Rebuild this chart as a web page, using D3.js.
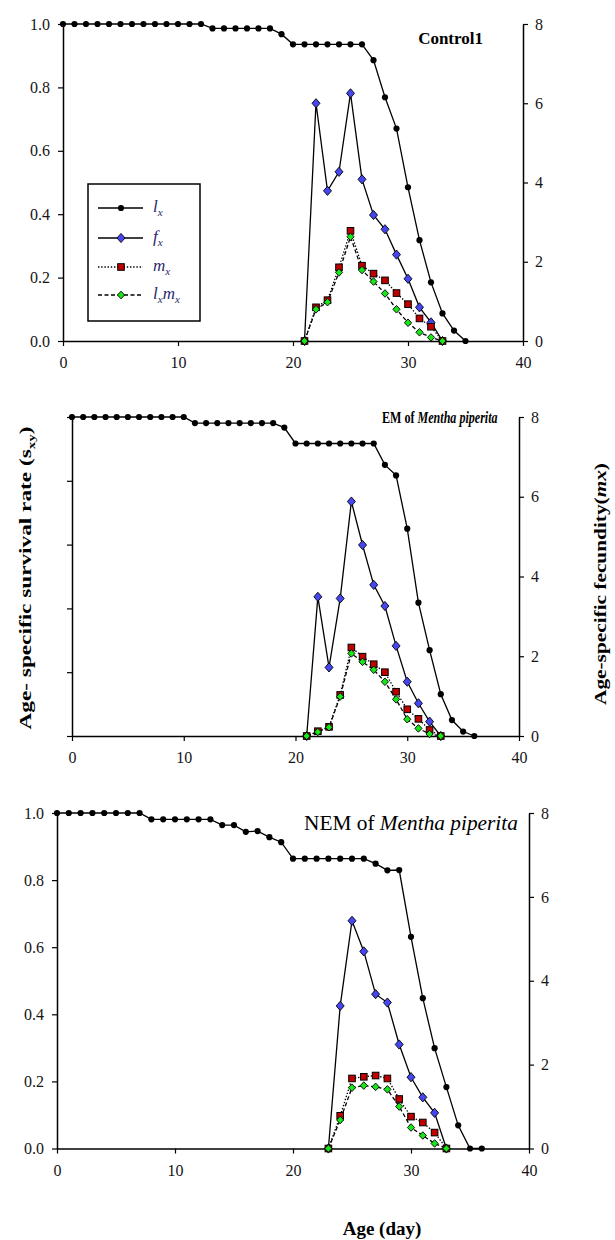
<!DOCTYPE html>
<html>
<head>
<meta charset="utf-8">
<script src="https://cdn.jsdelivr.net/npm/d3@7"></script>
<style>
  body { margin: 0; background: #fff; }
  text { font-family: "Liberation Serif", "Times New Roman", serif; }
</style>
</head>
<body>
<div id="chart"></div>
<script>
// Age in days (survival curves start at day 0)
const controlAge = [0,1,2,3,4,5,6,7,8,9,10,11,12,13,14,15,16,17,18,19,20,21,22,23,24,25,26,27,28,29,30,31,32,33,34,35];
const controlLx = [1,1,1,1,1,1,1,1,1,1,1,1,1,0.986,0.986,0.986,0.986,0.986,0.986,0.968,0.936,0.936,0.936,0.936,0.936,0.936,0.936,0.886,0.769,0.67,0.485,0.318,0.185,0.087,0.033,0];
const controlRepAge = [21,22,23,24,25,26,27,28,29,30,31,32,33];
const controlFx = [0,6.0,3.79,4.27,6.25,4.08,3.18,2.82,2.18,1.57,0.85,0.47,0];
const controlMx = [0,0.85,1.03,1.86,2.78,1.9,1.7,1.53,1.21,0.93,0.57,0.36,0];
const controlLxMx = [0,0.8,0.98,1.73,2.63,1.79,1.5,1.2,0.8,0.46,0.22,0.09,0];

const emAge = [0,1,2,3,4,5,6,7,8,9,10,11,12,13,14,15,16,17,18,19,20,21,22,23,24,25,26,27,28,29,30,31,32,33,34,35,36];
const emLx = [1,1,1,1,1,1,1,1,1,1,1,0.981,0.981,0.981,0.981,0.981,0.981,0.981,0.981,0.967,0.917,0.917,0.917,0.917,0.917,0.917,0.917,0.917,0.85,0.817,0.65,0.418,0.269,0.131,0.05,0.014,0];
const emRepAge = [21,22,23,24,25,26,27,28,29,30,31,32,33];
const emFx = [0,3.49,1.72,3.45,5.88,4.79,3.79,3.26,2.26,1.36,0.82,0.36,0];
const emMx = [0,0.12,0.23,1.03,2.22,1.99,1.8,1.6,1.11,0.67,0.43,0.15,0];
const emLxMx = [0,0.1,0.22,0.99,2.07,1.86,1.66,1.36,0.92,0.42,0.19,0.05,0];

const nemAge = [0,1,2,3,4,5,6,7,8,9,10,11,12,13,14,15,16,17,18,19,20,21,22,23,24,25,26,27,28,29,30,31,32,33,34,35,36];
const nemLx = [1,1,1,1,1,1,1,1,0.981,0.981,0.981,0.981,0.981,0.981,0.964,0.964,0.944,0.946,0.928,0.913,0.864,0.864,0.864,0.864,0.864,0.864,0.864,0.849,0.829,0.83,0.631,0.448,0.299,0.183,0.069,0,0];
const nemRepAge = [23,24,25,26,27,28,29,30,31,32,33];
const nemFx = [0,3.4,5.43,4.7,3.68,3.48,2.48,1.7,1.22,0.85,0];
const nemMx = [0,0.78,1.67,1.71,1.74,1.67,1.18,0.76,0.62,0.38,0];
const nemLxMx = [0,0.68,1.45,1.5,1.47,1.41,1.0,0.5,0.31,0.12,0];

const xTicks = [0,10,20,30,40];
const leftTicks = [0,0.2,0.4,0.6,0.8,1.0];
const rightTicks = [0,2,4,6,8];

const width = 615, height = 1240;

const svg = d3.select("#chart")
  .append("svg")
  .attr("width", width)
  .attr("height", height);

// rhombus marker, w/h are half sizes
function rhombus(w, h) {
  return `M0,${-h}L${w},0L0,${h}L${-w},0Z`;
}

const series = [
  { key: "lx", dash: null, marker: "circle", fill: "#000" },
  { key: "fx", dash: null, marker: rhombus(4, 4.6), fill: "#4646f0" },
  { key: "mx", dash: "1.4,1.8", marker: "square", fill: "#c00000" },
  { key: "lxmx", dash: "4,2.5", marker: rhombus(3.6, 3.8), fill: "#19e619" }
];

function drawMarker(g, s, x, y) {
  if (s.marker === "circle") {
    g.append("circle").attr("cx", x).attr("cy", y).attr("r", 3.1).attr("fill", "#000");
  } else if (s.marker === "square") {
    g.append("rect").attr("x", x - 3.3).attr("y", y - 3.3).attr("width", 6.6).attr("height", 6.6)
      .attr("fill", s.fill).attr("stroke", "#000").attr("stroke-width", 1);
  } else {
    g.append("path").attr("d", s.marker).attr("transform", `translate(${x},${y})`)
      .attr("fill", s.fill).attr("stroke", "#000").attr("stroke-width", 0.9);
  }
}

const panels = [
  { age: controlAge, lx: controlLx, repAge: controlRepAge, fx: controlFx, mx: controlMx, lxmx: controlLxMx,
    box: { left: 63, right: 523, top: 24, bottom: 341 }, leftLabels: true, legend: true },
  { age: emAge, lx: emLx, repAge: emRepAge, fx: emFx, mx: emMx, lxmx: emLxMx,
    box: { left: 72, right: 519, top: 417, bottom: 736 }, leftLabels: false, legend: false },
  { age: nemAge, lx: nemLx, repAge: nemRepAge, fx: nemFx, mx: nemMx, lxmx: nemLxMx,
    box: { left: 57, right: 529, top: 813, bottom: 1148.5 }, leftLabels: true, legend: false }
];

function styleAxis(g) {
  g.attr("font-family", "'Liberation Serif', serif").attr("font-size", 16);
  g.select(".domain").attr("stroke", "#000").attr("stroke-width", 1.5);
  g.selectAll(".tick line").attr("stroke", "#000").attr("stroke-width", 1.2);
  g.selectAll(".tick text").attr("fill", "#151515");
}

panels.forEach((p) => {
  const b = p.box;
  const x = d3.scaleLinear().domain([0, 40]).range([b.left, b.right]);
  const yL = d3.scaleLinear().domain([0, 1]).range([b.bottom, b.top]);
  const yR = d3.scaleLinear().domain([0, 8]).range([b.bottom, b.top]);

  const g = svg.append("g");

  // axes
  g.append("g")
    .attr("transform", `translate(0,${b.bottom})`)
    .call(d3.axisBottom(x).tickValues(xTicks).tickSize(5).tickSizeOuter(0).tickPadding(11))
    .call(styleAxis);

  g.append("g")
    .attr("transform", `translate(${b.left},0)`)
    .call(d3.axisLeft(yL).tickValues(leftTicks).tickSize(5).tickSizeOuter(0).tickPadding(8)
      .tickFormat(p.leftLabels ? d3.format(".1f") : ""))
    .call(styleAxis);

  g.append("g")
    .attr("transform", `translate(${b.right},0)`)
    .call(d3.axisRight(yR).tickValues(rightTicks).tickSize(5).tickSizeOuter(0).tickPadding(7))
    .call(styleAxis);

  // lines
  const lxLine = d3.line().x((d, i) => x(p.age[i])).y((d) => yL(d));
  const repLine = d3.line().x((d, i) => x(p.repAge[i])).y((d) => yR(d));

  series.forEach((s) => {
    const vals = p[s.key];
    const path = g.append("path")
      .datum(vals)
      .attr("fill", "none")
      .attr("stroke", "#000")
      .attr("stroke-width", 1.3)
      .attr("d", s.key === "lx" ? lxLine : repLine);
    if (s.dash) path.attr("stroke-dasharray", s.dash);
  });

  series.forEach((s) => {
    const vals = p[s.key];
    const ages = s.key === "lx" ? p.age : p.repAge;
    const yS = s.key === "lx" ? yL : yR;
    vals.forEach((v, i) => drawMarker(g, s, x(ages[i]), yS(v)));
  });

  // legend (control panel only)
  if (p.legend) {
    g.append("rect")
      .attr("x", 88).attr("y", 184).attr("width", 112).attr("height", 137)
      .attr("fill", "#fff").attr("stroke", "#000").attr("stroke-width", 1.5);
    const rows = [
      { s: series[0], y: 208, parts: [["l", 0], ["x", 1]] },
      { s: series[1], y: 238, parts: [["f", 0], ["x", 1]] },
      { s: series[2], y: 267, parts: [["m", 0], ["x", 1]] },
      { s: series[3], y: 295, parts: [["l", 0], ["x", 1], ["m", 0], ["x", 1]] }
    ];
    rows.forEach((r) => {
      const ln = g.append("line")
        .attr("x1", 98).attr("x2", 143).attr("y1", r.y).attr("y2", r.y)
        .attr("stroke", "#000").attr("stroke-width", 1.3);
      if (r.s.dash) ln.attr("stroke-dasharray", r.s.dash);
      drawMarker(g, r.s, 121, r.y);
      const t = g.append("text")
        .attr("x", 153).attr("y", r.y + 4)
        .attr("font-size", 17).attr("font-style", "italic").attr("fill", "#2a2a6a");
      let shifted = false;
      r.parts.forEach(([txt, sub]) => {
        const ts = t.append("tspan").text(txt);
        if (sub && !shifted) { ts.attr("dy", 4).attr("font-size", 11); shifted = true; }
        else if (sub) { ts.attr("font-size", 11); }
        else if (shifted) { ts.attr("dy", -4); shifted = false; }
      });
    });
  }
});

// squeeze a text horizontally to a given width
function fitWidth(t, base, target) {
  const w = t.node().getBBox().width;
  t.attr("transform", `${base} scale(${target / w},1)`);
}

// panel titles
svg.append("text")
  .attr("x", 483).attr("y", 38).attr("dy", "0.35em")
  .attr("text-anchor", "end")
  .attr("font-size", 17).attr("font-weight", "bold")
  .text("Control1");

const emTitle = svg.append("text")
  .attr("dy", "0.35em")
  .attr("font-size", 17).attr("font-weight", "bold");
emTitle.append("tspan").text("EM of ");
emTitle.append("tspan").attr("font-style", "italic").text("Mentha piperita");
fitWidth(emTitle, "translate(382,417)", 116);

const nemTitle = svg.append("text")
  .attr("dy", "0.35em")
  .attr("font-size", 21);
nemTitle.append("tspan").text("NEM of ");
nemTitle.append("tspan").attr("font-style", "italic").text("Mentha piperita");
fitWidth(nemTitle, "translate(304,823)", 214);

// axis titles
const leftTitle = svg.append("text")
  .attr("text-anchor", "middle").attr("dy", "0.35em")
  .attr("font-size", 17).attr("font-weight", "bold");
leftTitle.append("tspan").text("Age- specific survival rate (s");
leftTitle.append("tspan").attr("font-size", 11).attr("dy", 4).text("xy");
leftTitle.append("tspan").attr("dy", -4).text(")");
fitWidth(leftTitle, "translate(25,578) rotate(-90)", 303);

const rightTitle = svg.append("text")
  .attr("text-anchor", "middle").attr("dy", "0.35em")
  .attr("font-size", 17).attr("font-weight", "bold");
rightTitle.append("tspan").text("Age-specific fecundity(");
rightTitle.append("tspan").attr("font-style", "italic").text("mx");
rightTitle.append("tspan").text(")");
fitWidth(rightTitle, "translate(600,584) rotate(-90)", 242);

svg.append("text")
  .attr("x", 382).attr("y", 1228).attr("dy", "0.35em")
  .attr("text-anchor", "middle")
  .attr("font-size", 19).attr("font-weight", "bold")
  .text("Age (day)");
</script>
</body>
</html>
